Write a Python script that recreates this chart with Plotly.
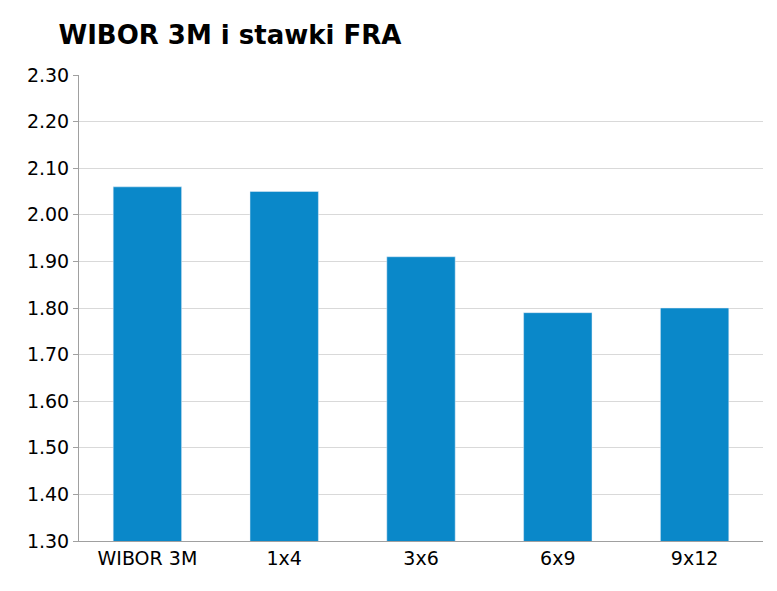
import plotly.graph_objects as go

categories = ["WIBOR 3M", "1x4", "3x6", "6x9", "9x12"]
values = [2.06, 2.05, 1.91, 1.79, 1.80]
tick_vals = [1.30, 1.40, 1.50, 1.60, 1.70, 1.80, 1.90, 2.00, 2.10, 2.20, 2.30]
tick_text = ["%.2f" % v for v in tick_vals]

fig = go.Figure(go.Bar(x=categories, y=values, marker_color="#0A88C9", width=0.5))
fig.update_layout(
    width=777, height=591,
    margin=dict(l=71, r=22, t=67, b=58),
    paper_bgcolor="white", plot_bgcolor="white",
    font=dict(family="DejaVu Sans", size=19, color="black"),
    title=dict(text="<b>WIBOR 3M i stawki FRA</b>", x=0.065, xanchor="left", y=0.955, yanchor="middle",
               font=dict(size=26, family="DejaVu Sans")),
    showlegend=False,
)
fig.update_yaxes(range=[1.30, 2.30], tickvals=tick_vals, ticktext=tick_text,
                 showgrid=True, gridcolor="#D9D9D9", showline=True, linecolor="#A0A0A0",
                 ticks="outside", ticklen=5, tickcolor="#A0A0A0")
fig.update_xaxes(showline=True, linecolor="#A0A0A0", ticks="", tickfont=dict(size=19))
fig.write_html("out.html")
